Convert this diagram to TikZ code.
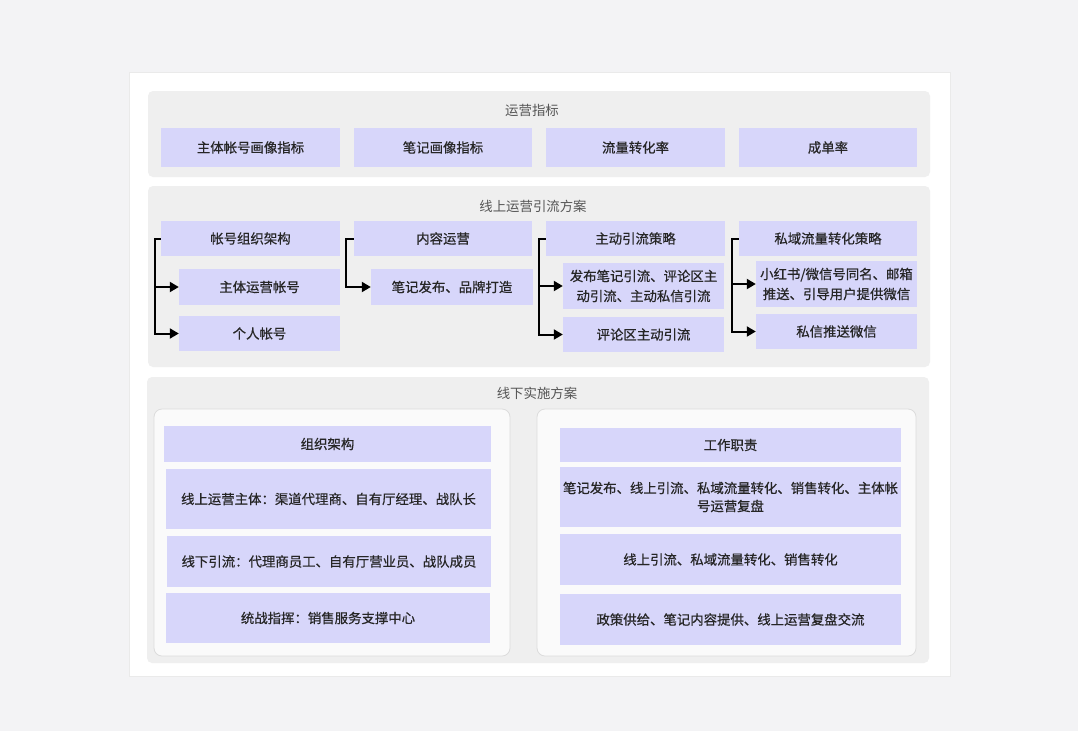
\documentclass[tikz,border=0pt]{standalone}
\usepackage{fontspec}
\setmainfont{Noto Sans CJK SC}
\newfontfamily\boxfont[FakeBold=0.6]{Noto Sans CJK SC}
\usetikzlibrary{arrows.meta}
\definecolor{pagebg}{HTML}{F3F3F5}
\definecolor{cardbg}{HTML}{FFFFFF}
\definecolor{panelbg}{HTML}{EFEFEF}
\definecolor{innerbg}{HTML}{FAFAFA}
\definecolor{innerbd}{HTML}{DCDCDC}
\definecolor{boxbg}{HTML}{D7D6FA}
\definecolor{txt}{HTML}{262626}
\definecolor{ttl}{HTML}{555555}
\tikzset{
  box/.style={fill=boxbg, draw=none, inner sep=0pt, align=center, text=txt,
    font=\boxfont\fontsize{13.4}{20}\selectfont},
  ttltext/.style={text=ttl, inner sep=0pt, font=\fontsize{13.4}{18}\selectfont},
  conn/.style={draw=black, line width=2pt, -{Triangle[length=9pt,width=10pt]}},
}
\newcommand{\mybox}[6]{\node[box, minimum width={#4-#2}, minimum height={#5-#3}] (#1) at ({(#2+#4)/2},{(#3+#5)/2}) {#6};}
\begin{document}
\begin{tikzpicture}[x=1pt,y=-1pt]
\useasboundingbox (0,0) rectangle (1078,731);
\fill[pagebg] (0,0) rectangle (1078,731);
\fill[cardbg] (129,72) rectangle (950,676);
\draw[innerbd!60, line width=0.6pt] (129,72) rectangle (950,676);
% panels
\fill[panelbg, rounded corners=5pt] (148,91) rectangle (930,177);
\fill[panelbg, rounded corners=5pt] (148,186) rectangle (930,367);
\fill[panelbg, rounded corners=5pt] (147,377) rectangle (929,663);
\node[ttltext] (t1) at (532,110) {运营指标};
\node[ttltext] (t2) at (533,206) {线上运营引流方案};
\node[ttltext] (t3) at (537,393) {线下实施方案};
% panel 1
\mybox{m1}{161}{128}{340}{167}{主体帐号画像指标}
\mybox{m2}{354}{128}{532}{167}{笔记画像指标}
\mybox{m3}{546}{128}{725}{167}{流量转化率}
\mybox{m4}{739}{128}{917}{167}{成单率}
% panel 2
\mybox{a0}{161}{221}{340}{256}{帐号组织架构}
\mybox{a1}{179}{269}{340}{305}{主体运营帐号}
\mybox{a2}{179}{316}{340}{351}{个人帐号}
\mybox{b0}{354}{221}{532}{256}{内容运营}
\mybox{b1}{371}{269}{533}{305}{笔记发布、品牌打造}
\mybox{c0}{546}{221}{725}{256}{主动引流策略}
\mybox{c1}{563}{263}{724}{309}{发布笔记引流、评论区主\\动引流、主动私信引流}
\mybox{c2}{563}{317}{724}{352}{评论区主动引流}
\mybox{d0}{739}{221}{917}{256}{私域流量转化策略}
\mybox{d1}{756}{261}{917}{307}{小红书/微信号同名、邮箱\\推送、引导用户提供微信}
\mybox{d2}{756}{314}{917}{349}{私信推送微信}
\draw[conn] (a0.west) -- ++(-6,0) |- (a1.west);
\draw[conn] (a0.west) -- ++(-6,0) |- (a2.west);
\draw[conn] (b0.west) -- ++(-8,0) |- (b1.west);
\draw[conn] (c0.west) -- ++(-7,0) |- (c1.west);
\draw[conn] (c0.west) -- ++(-7,0) |- (c2.west);
\draw[conn] (d0.west) -- ++(-7,0) |- (d1.west);
\draw[conn] (d0.west) -- ++(-7,0) |- (d2.west);
% panel 3
\filldraw[fill=innerbg, draw=innerbd, line width=0.8pt, rounded corners=8pt] (154,409) rectangle (510,656);
\filldraw[fill=innerbg, draw=innerbd, line width=0.8pt, rounded corners=8pt] (537,409) rectangle (916,656);
\mybox{o0}{164}{426}{491}{462}{组织架构}
\mybox{o1}{166}{469}{491}{529}{线上运营主体：渠道代理商、自有厅经理、战队长}
\mybox{o2}{167}{536}{491}{587}{线下引流：代理商员工、自有厅营业员、战队成员}
\mybox{o3}{166}{593}{490}{643}{统战指挥：销售服务支撑中心}
\mybox{w0}{560}{428}{901}{462}{工作职责}
\node[box, font=\boxfont\fontsize{13.4}{18}\selectfont, minimum width=341, minimum height=60] (w1) at (730.5,497) {笔记发布、线上引流、私域流量转化、销售转化、主体帐\\号运营复盘};
\mybox{w2}{560}{534}{901}{585}{线上引流、私域流量转化、销售转化}
\mybox{w3}{560}{594}{901}{645}{政策供给、笔记内容提供、线上运营复盘交流}
\end{tikzpicture}
\end{document}
